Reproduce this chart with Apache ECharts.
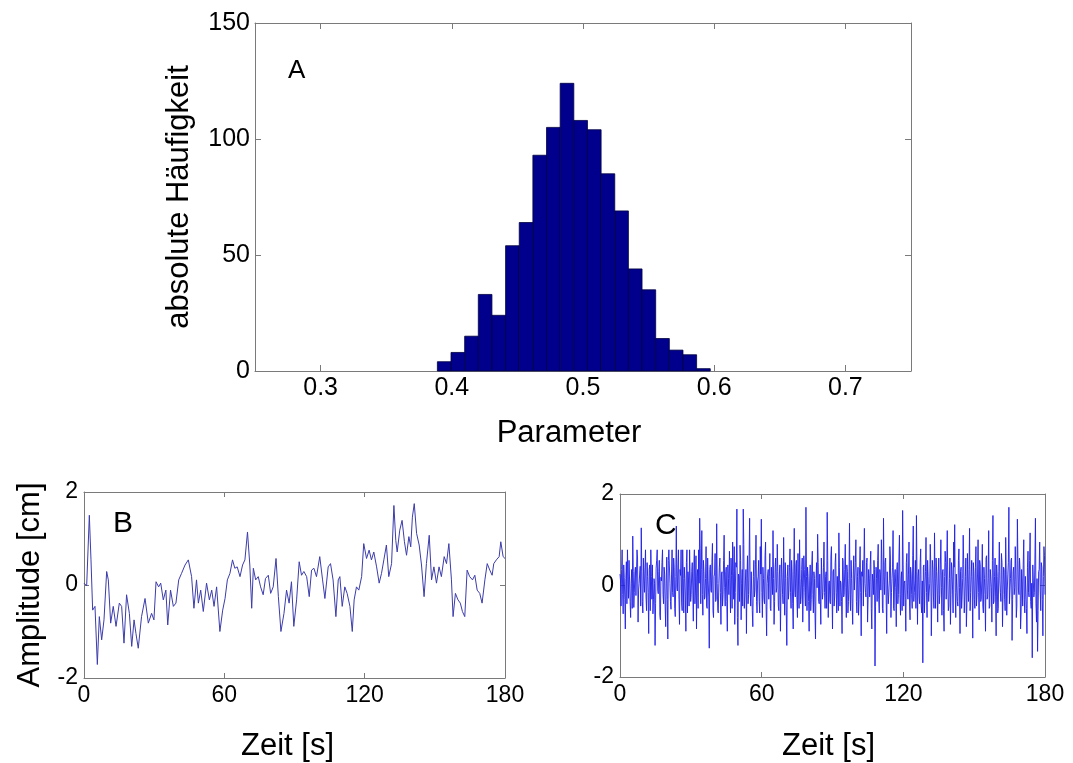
<!DOCTYPE html>
<html>
<head>
<meta charset="utf-8">
<script src="https://cdn.jsdelivr.net/npm/echarts@6/dist/echarts.min.js"></script>
<style>
html,body{margin:0;padding:0;background:#fff;}
#chart{width:1073px;height:763px;}
</style>
</head>
<body>
<div id="chart"></div>
<script>
// ---------- Panel A: histogram ----------
const aBinEdges = [0.3890, 0.3994, 0.4098, 0.4202, 0.4306, 0.4410, 0.4514, 0.4618, 0.4722, 0.4826, 0.4930,
                   0.5034, 0.5138, 0.5242, 0.5346, 0.5450, 0.5554, 0.5658, 0.5762, 0.5866, 0.5970];
const aCounts = [4, 8, 15, 33, 24, 54, 64, 93, 105, 124, 108, 104, 85, 69, 44, 35, 14, 9, 7, 1];
const aXTicks = [0.3, 0.4, 0.5, 0.6, 0.7];
const aYTicks = [0, 50, 100, 150];

// ---------- Panel B: smooth-ish time series ----------
const bTime = [0, 1.14, 2.28, 2.99, 3.70, 4.70, 5.70, 6.55, 7.55, 8.55, 9.69, 10.4, 11.4, 12.5, 13.7, 15.1, 16.1, 17.1, 18.2, 19.4,
  20.4, 21.4, 22.2, 23.2, 24.6, 26.1, 27.5, 28.9, 29.9, 30.8, 31.9, 32.8, 33.9, 35.0, 35.8, 37.0, 38.2, 39.3, 40.5, 41.7,
  43.2, 44.6, 46.0, 47.0, 48.1, 48.9, 49.9, 51.0, 52.4, 53.6, 54.6, 55.6, 56.7, 58.1, 59.3, 60.3, 61.3, 62.4, 63.5, 64.5,
  65.5, 66.7, 67.8, 68.8, 69.9, 70.9, 71.7, 72.4, 73.4, 74.5, 75.5, 76.6, 77.6, 78.8, 79.8, 80.9, 82.1, 83.1, 84.2, 85.5,
  86.6, 87.7, 88.7, 89.7, 90.9, 92.0, 93.0, 94.0, 95.2, 96.3, 97.3, 98.3, 99.4, 100.8, 102.0, 103.0, 104.4, 105.4, 106.5, 107.7,
  108.7, 109.4, 110.4, 111.5, 112.5, 113.7, 114.7, 115.5, 116.5, 117.5, 118.7, 119.6, 120.8, 121.9, 122.9, 123.9, 125.1, 126.2, 127.2, 128.2,
  129.3, 130.3, 131.5, 132.5, 133.3, 133.9, 135.0, 136.0, 137.0, 137.9, 138.9, 139.7, 140.4, 141.2, 142.2, 143.3, 144.3, 145.4, 146.4, 147.6,
  148.6, 149.6, 150.7, 151.8, 152.8, 154.0, 155.0, 156.0, 157.1, 157.8, 158.8, 159.9, 160.9, 161.8, 162.8, 163.8, 164.9, 166.1, 167.1, 168.1,
  169.2, 170.2, 171.4, 172.4, 173.5, 174.5, 175.2, 176.3, 177.5, 178.2, 179.2, 180];
const bAmp = [0.04, -0.02, 1.50, 0.54, -0.54, -0.46, -1.71, -0.68, -1.18, -0.75, 0.29, 0.11, -0.82, -0.46, -0.89, -0.39, -0.46, -1.25, -0.21, -0.61,
  -1.32, -0.75, -1.04, -1.36, -0.68, -0.29, -0.82, -0.61, -0.75, 0.07, -0.04, 0.04, -0.32, -0.11, -0.86, -0.11, -0.46, -0.39, 0.11, 0.25,
  0.43, 0.54, 0.18, -0.50, 0.11, -0.39, -0.11, -0.57, 0.04, -0.32, -0.11, -0.46, -0.04, -1.00, -0.54, -0.29, 0.11, 0.25, 0.54, 0.36,
  0.39, 0.18, 0.43, 0.54, 1.14, 0.43, -0.50, 0.36, 0.11, 0.18, -0.04, -0.21, 0.14, 0.21, -0.18, -0.04, 0.57, -0.25, -1.00, -0.61,
  -0.11, -0.39, 0.07, -0.89, -0.32, 0.50, 0.21, 0.29, 0.18, -0.25, 0.32, 0.36, 0.18, 0.61, 0.11, -0.29, 0.39, 0.46, 0.11, -0.68,
  0.11, 0.18, -0.46, -0.04, -0.18, -0.46, -1.00, -0.32, -0.04, -0.11, 0.18, 0.89, 0.57, 0.75, 0.54, 0.71, 0.39, 0.04, 0.25, 0.54,
  0.86, 0.18, 0.46, 1.71, 0.96, 0.71, 1.18, 1.39, 0.93, 0.64, 1.04, 0.82, 1.46, 1.75, 1.11, 0.86, 0.43, -0.25, 0.46, 1.07,
  0.11, 0.39, 0.04, 0.39, 0.18, 0.61, 0.46, 0.89, 0.11, -0.68, -0.18, -0.32, -0.39, -0.57, -0.68, 0.32, 0.18, 0.11, 0.21, -0.11,
  -0.18, -0.39, 0.11, 0.46, 0.32, 0.21, 0.46, 0.54, 0.61, 0.93, 0.61, 0.57];

// ---------- Panel C: noisy time series ----------
// main samples at t = i * cStep, intermediate samples at t = i * cStep + cStep / 2
const cStep = 0.45;
const cAmp = [
  0.25, -0.45, 0.78, -0.62, 0.18, -0.95, 0.52, 0.78, -0.28, 0.12, -0.70, 0.35, 1.08, -0.48, 0.30, -0.22, 0.78, -0.80, 0.05, 0.42,
  1.26, -0.35, 0.60, -0.15, 0.78, -0.55, 0.20, -1.05, 0.45, 0.78, -0.30, -0.62, 0.15, -1.31, 0.38, 0.78, -0.18, 0.55, -0.75, 0.10,
  0.78, -0.40, 0.25, -0.90, 0.62, -1.17, 0.78, 0.05, -0.52, 0.78, -0.25, 0.40, -0.68, 1.30, -0.12, 0.78, -0.85, 0.22, -0.38, 0.78,
  -0.60, 0.15, -1.00, 0.78, 0.30, -0.45, 0.78, -0.20, 0.50, -0.78, 0.78, -0.10, -0.95, 0.35, 0.78, 1.47, -0.40, 1.20, -0.65, 0.30,
  -0.25, 0.85, -0.50, 0.10, -1.37, 0.45, -0.15, 0.92, -0.70, 0.25, -0.35, 1.35, -0.55, 0.05, 0.60, -0.85, 0.30, -0.20, 1.10, -0.45,
  0.40, -1.00, 0.15, 0.75, -0.60, 0.22, 0.95, -0.30, -0.85, 0.50, 1.67, -1.31, 0.20, 0.88, -0.75, 0.35, 1.67, -0.50, 0.10, -1.05,
  0.65, -0.20, 1.47, -0.45, 0.30, -0.90, 0.55, -0.10, 1.10, -0.60, 0.20, -0.35, 0.85, 1.45, -0.70, 0.15, -0.40, 0.95, -1.10, 0.25,
  -0.30, 0.70, -0.55, 0.10, 1.20, -0.85, 0.40, -0.15, 0.90, -0.45, 0.25, -1.00, 0.60, -0.20, 1.05, -0.65, 0.15, -1.31, 0.45, -0.10,
  0.80, -0.50, 0.30, -0.95, 1.25, -0.25, 0.55, -0.70, 0.10, 1.00, -0.40, 0.35, -0.80, 0.65, -0.15, 1.71, -0.55, 0.20, -1.00, 0.45,
  -0.30, 0.75, -0.60, 0.15, -1.17, 0.50, 1.12, -0.35, 0.25, -0.85, 0.60, -0.15, 0.95, -0.50, 0.30, 1.60, -0.70, 0.10, -0.40, 0.85,
  -0.95, 0.35, -0.25, 0.70, -0.60, 0.20, 1.15, -0.45, 0.05, -1.05, 0.55, -0.20, 0.90, -0.70, 0.30, -0.35, 1.36, -0.55, 0.15, -0.85,
  0.65, -0.10, 1.00, -0.60, 0.40, -0.30, 0.85, -1.10, 0.20, -0.45, 1.25, -0.15, 0.50, -0.80, 0.35, -0.25, 0.75, -0.95, 0.10, 0.55,
  -1.76, 0.40, -0.35, 0.90, -0.60, 0.25, 1.00, -0.50, 1.47, -0.20, 0.60, -1.05, 0.30, -0.40, 0.85, -0.70, 0.15, 1.20, -0.55, 0.35,
  -0.90, 0.50, -0.20, 1.10, -0.65, 0.30, 1.64, -0.45, 0.10, -1.00, 0.70, -0.30, 0.95, -0.75, 0.25, -0.50, 1.30, -0.15, 0.55, 1.53,
  -0.85, 0.35, -0.40, 0.80, -0.60, -1.69, 0.45, -0.10, 1.05, -0.70, 0.20, -0.35, 0.90, -1.10, 0.55, -0.25, 1.15, -0.50, 0.30, -0.80,
  0.60, -0.20, 1.00, -0.65, 0.35, -1.00, 0.75, -0.30, 1.20, -0.55, 0.15, -0.85, 0.50, -0.10, 0.95, 1.33, -0.70, 0.25, -0.45, 0.80,
  -1.05, 0.40, -0.25, 1.10, -0.60, 0.20, -0.90, 0.70, -0.35, 1.25, -0.15, 0.55, -1.15, 0.30, -0.50, 0.85, -0.20, 1.00, -0.75, 0.45,
  -0.30, 0.90, -0.60, 0.15, -1.00, 0.65, -0.25, 1.20, -0.45, 0.35, -0.80, 1.53, -0.35, 0.60, -1.10, 0.20, -0.50, 0.95, -0.15, 0.70,
  -0.90, 0.40, -0.30, 1.05, -0.65, 0.25, 1.71, -0.40, 0.55, -1.20, 0.30, -0.20, 0.85, -0.70, 1.45, -0.10, 0.60, -0.95, 0.35, -0.45,
  1.00, -0.60, 0.20, -1.05, 0.75, -0.25, 1.15, -0.50, -1.58, 0.45, -0.15, 1.47, -0.80, -1.44, 0.30, 0.95, -0.55, 0.40, -1.10, 0.85,
  -0.20];
const cAmpMid = [
  0.10, 0.35, -0.20, 0.45, -0.30, 0.15, -0.40, 0.20, 0.55, -0.35, 0.05, -0.50, 0.30, -0.15, 0.40, -0.25, 0.60, -0.10, 0.25, -0.45,
  0.30, -0.60, 0.12, 0.40, -0.25, 0.50, -0.15, 0.35, -0.55, 0.20, 0.45, -0.30, 0.05, -0.40, 0.55, -0.10, 0.30, -0.65, 0.18, 0.50,
  -0.20, 0.40, -0.45, 0.10, -0.30, 0.55, 0.78, -0.35, 0.25, -0.15, 0.60, -0.50, 0.20, -0.05, 0.45, -0.30, 0.35, 0.78, -0.55, 0.15,
  0.40, -0.25, 0.50, -0.60, 0.10, 0.78, -0.35, 0.30, -0.10, 0.45, -0.40, 0.65, 0.20, -0.50, 0.05, 0.80, 0.35, -0.20, 0.55, -0.30,
  0.15, -0.45, 0.60, -0.25, 0.35, -0.10, 0.50, -0.55, 0.20, 0.70, -0.30, 0.05, -0.60, 0.40, -0.15, 0.25, -0.45, 0.55, -0.05, 0.30,
  -0.35, 0.45, -0.20, 0.10, 0.60, -0.50, 0.30, 0.85, -0.15, 0.40, -0.70, 0.25, -0.35, 0.55, 0.05, -0.45, 0.90, -0.25, 0.35, 0.15,
  -0.40, 0.60, -0.10, 0.30, -0.55, 0.20, -0.25, 0.45, -0.35, 0.10, 0.55, -0.60, 0.25, -0.15, 0.40, -0.30, 0.65, -0.45, 0.05, 0.35,
  0.20, -0.50, 0.40, -0.20, 0.15, -0.35, 0.60, -0.05, 0.30, -0.55, 0.45, -0.15, 0.25, -0.40, 0.10, 0.50, -0.60, 0.20, -0.30, 0.40,
  -0.15, 0.55, -0.40, 0.25, -0.10, 0.45, -0.30, 0.70, -0.50, 0.15, -0.25, 0.60, -0.05, 0.35, -0.45, 0.20, 0.40, -0.35, 0.10, -0.55,
  0.45, -0.20, 0.30, -0.60, 0.15, -0.05, 0.50, -0.40, 0.25, 0.60, -0.30, 0.40, -0.15, 0.20, -0.50, 0.55, 0.05, -0.35, 0.65, -0.10,
  0.30, -0.45, 0.50, -0.15, 0.20, -0.55, 0.40, 0.10, -0.35, 0.60, -0.25, 0.35, -0.05, 0.45, -0.60, 0.15, -0.20, 0.55, -0.40, 0.25,
  -0.10, 0.50, -0.35, 0.20, -0.65, 0.40, -0.15, 0.30, 0.55, -0.45, 0.05, -0.25, 0.60, -0.30, 0.15, 0.45, -0.50, 0.25, -0.20, 0.35,
  -0.45, 0.15, 0.55, -0.30, 0.35, -0.10, 0.45, -0.60, 0.20, 0.50, -0.25, 0.30, -0.40, 0.10, 0.60, -0.15, 0.40, -0.50, 0.25, -0.05,
  0.35, -0.40, 0.60, -0.20, 0.15, -0.55, 0.45, 0.05, -0.30, 0.50, -0.10, 0.25, -0.45, 0.40, -0.20, 0.65, -0.35, 0.10, -0.50, 0.30,
  0.20, -0.25, 0.50, -0.45, 0.10, 0.40, -0.60, 0.30, -0.15, 0.55, -0.35, 0.05, 0.45, -0.25, 0.35, -0.50, 0.15, 0.60, -0.10, 0.25,
  -0.40, 0.45, -0.05, 0.30, -0.55, 0.20, 0.50, -0.30, 0.10, -0.45, 0.60, -0.20, 0.35, -0.60, 0.40, -0.15, 0.25, -0.35, 0.55, -0.05,
  0.30, -0.50, 0.15, 0.45, -0.25, 0.60, -0.40, 0.05, 0.35, -0.55, 0.20, -0.10, 0.50, -0.30, 0.40, -0.45, 0.25, -0.15, 0.55, -0.35,
  0.10, -0.45, 0.40, -0.20, 0.60, -0.30, 0.15, -0.50, 0.35, -0.05, 0.55, -0.40, 0.20, -0.25, 0.45, -0.60, 0.30, 0.10, -0.35, 0.50,
  -0.20, 0.35, -0.55, 0.25, -0.10, 0.50, -0.40, 0.15, 0.60, -0.30, 0.40, -0.05, 0.25, -0.45, 0.55, -0.20, 0.35, -0.60, 0.10, 0.45,
  -0.30, 0.20, -0.50, 0.40, -0.15, 0.55, -0.35, 0.05, 0.45, -0.25, 0.60, -0.40, 0.15, -0.55, 0.35, -0.10, 0.50, -0.30, 0.20, 0.65];
const btTicks = [0, 60, 120, 180];
const ampTicks = [-2, 0, 2];

// ---------- build ----------
const FONT = '"Liberation Sans", Arial, Helvetica, sans-serif';
const BOX = '#7a7a7a';

function xAx(grid, opts, top) {
  return Object.assign({
    gridIndex: grid, type: 'value', position: top ? 'top' : 'bottom',
    axisLine: { show: true, onZero: false, lineStyle: { color: BOX, width: 1 } },
    axisTick: { show: true, inside: true, length: 5, lineStyle: { color: BOX } },
    axisLabel: { show: !top, color: '#000', fontFamily: FONT, fontSize: 23, margin: 6 },
    splitLine: { show: false }
  }, opts);
}
function yAx(grid, opts, right) {
  return Object.assign({
    gridIndex: grid, type: 'value', position: right ? 'right' : 'left',
    axisLine: { show: true, onZero: false, lineStyle: { color: BOX, width: 1 } },
    axisTick: { show: true, inside: true, length: 5, lineStyle: { color: BOX } },
    axisLabel: { show: !right, color: '#000', fontFamily: FONT, fontSize: 23, margin: 6 },
    splitLine: { show: false }
  }, opts);
}

const nameStyle = { color: '#000', fontFamily: FONT, fontSize: 31 };

const aXOpts = {
  min: 0.25, max: 0.75,
  axisTick: { show: true, inside: true, length: 6, lineStyle: { color: BOX }, customValues: aXTicks },
  axisLabel: { color: '#000', fontFamily: FONT, fontSize: 25, margin: 5, customValues: aXTicks }
};
const aYOpts = {
  min: aYTicks[0], max: aYTicks[aYTicks.length - 1], interval: 50,
  axisTick: { show: true, inside: true, length: 6, lineStyle: { color: BOX } },
  axisLabel: { color: '#000', fontFamily: FONT, fontSize: 25, margin: 5 }
};
const tOpts = { min: btTicks[0], max: btTicks[btTicks.length - 1], interval: 60 };
const yOpts = { min: ampTicks[0], max: ampTicks[ampTicks.length - 1], interval: 2 };

const xAxes = [
  xAx(0, Object.assign({}, aXOpts, { name: 'Parameter', nameLocation: 'middle', nameGap: 47, nameTextStyle: Object.assign({ padding: [0, 28, 0, 0] }, nameStyle) })),
  xAx(0, Object.assign({}, aXOpts, { axisLabel: { show: false, customValues: aXTicks } }), true),
  xAx(1, Object.assign({}, tOpts, { name: 'Zeit [s]', nameLocation: 'middle', nameGap: 53, nameTextStyle: Object.assign({ padding: [0, 14, 0, 0] }, nameStyle) })),
  xAx(1, tOpts, true),
  xAx(2, Object.assign({}, tOpts, { name: 'Zeit [s]', nameLocation: 'middle', nameGap: 54, nameTextStyle: Object.assign({ padding: [0, 8, 0, 0] }, nameStyle) })),
  xAx(2, tOpts, true)
];
const yAxes = [
  yAx(0, Object.assign({}, aYOpts, { name: 'absolute Häufigkeit', nameLocation: 'middle', nameGap: 60, nameTextStyle: nameStyle })),
  yAx(0, Object.assign({}, aYOpts, { axisLabel: { show: false } }), true),
  yAx(1, Object.assign({}, yOpts, { name: 'Amplitude [cm]', nameLocation: 'middle', nameGap: 38, nameTextStyle: nameStyle })),
  yAx(1, yOpts, true),
  yAx(2, yOpts),
  yAx(2, yOpts, true)
];

const histData = aCounts.map((c, i) => [aBinEdges[i], aBinEdges[i + 1], c]);
const bData = bTime.map((t, i) => [t, bAmp[i]]);
const cData = [];
cAmp.forEach((v, i) => {
  cData.push([+(i * cStep).toFixed(3), v]);
  if (i < cAmpMid.length) cData.push([+(i * cStep + cStep / 2).toFixed(3), cAmpMid[i]]);
});

const option = {
  backgroundColor: '#ffffff',
  animation: false,
  grid: [
    { left: 255, top: 23, width: 656, height: 348 },
    { left: 84, top: 492, width: 421, height: 187 },
    { left: 620, top: 494, width: 425, height: 192 }
  ],
  xAxis: xAxes,
  yAxis: yAxes,
  series: [
    {
      type: 'custom', xAxisIndex: 0, yAxisIndex: 0, data: histData,
      encode: { x: [0, 1], y: 2 },
      renderItem: function (params, api) {
        const p0 = api.coord([api.value(0), api.value(2)]);
        const p1 = api.coord([api.value(1), 0]);
        return {
          type: 'rect',
          shape: { x: p0[0], y: p0[1], width: p1[0] - p0[0], height: p1[1] - p0[1] },
          style: { fill: '#00008c', stroke: '#000040', lineWidth: 0.8 }
        };
      }
    },
    {
      type: 'line', xAxisIndex: 2, yAxisIndex: 2, data: bData, showSymbol: false,
      lineStyle: { color: '#3c3cac', width: 1 }
    },
    {
      type: 'line', xAxisIndex: 4, yAxisIndex: 4, data: cData, showSymbol: false, sampling: null,
      lineStyle: { color: '#1e1ee6', width: 0.9 }
    }
  ],
  graphic: [
    { type: 'text', left: 288, top: 58, style: { text: 'A', fill: '#000', font: '26px ' + FONT } },
    { type: 'text', left: 113, top: 509, style: { text: 'B', fill: '#000', font: '30px ' + FONT } },
    { type: 'text', left: 655, top: 511, style: { text: 'C', fill: '#000', font: '30px ' + FONT } }
  ]
};

const chart = echarts.init(document.getElementById('chart'), null, { renderer: 'canvas' });
chart.setOption(option);
</script>
</body>
</html>
